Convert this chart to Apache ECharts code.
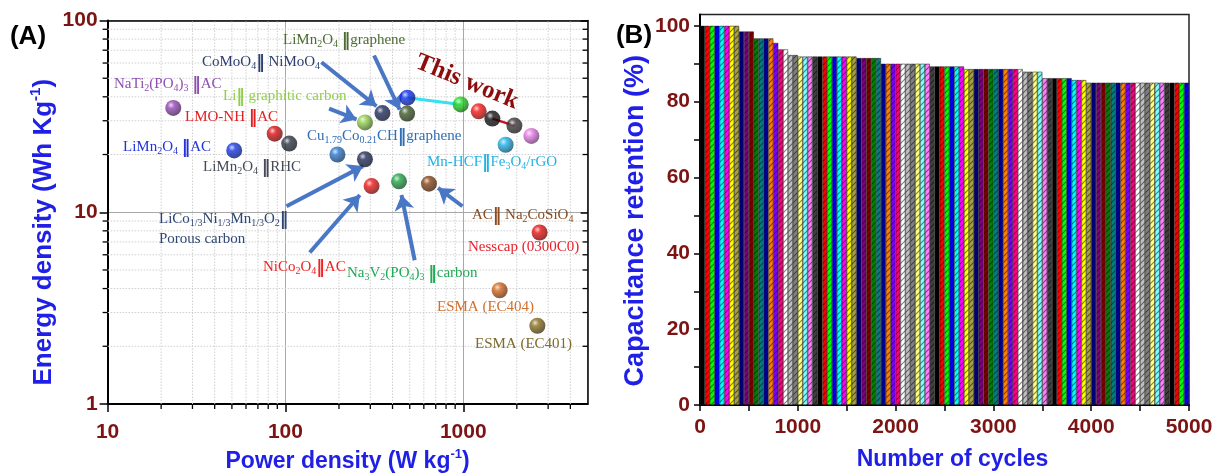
<!DOCTYPE html>
<html>
<head>
<meta charset="utf-8">
<script src="https://cdn.jsdelivr.net/npm/echarts@6/dist/echarts.min.js"></script>
<style>
  html, body { margin: 0; padding: 0; background: #ffffff; }
  #chart { width: 1219px; height: 474px; }
</style>
</head>
<body>
<div id="chart"></div>
<script>
// ---------- (A) Ragone plot: reported devices ----------
const refPower  = [23.4, 87, 105, 51.5, 351, 483, 280, 196, 280, 305, 435, 641, 1730, 2687, 1601, 2609];
const refEnergy = [35, 25.7, 22.8, 21, 32.9, 32.7, 29.4, 20, 18.9, 13.7, 14.5, 14.1, 22.5, 7.84, 3.92, 2.56];

// ---------- (A) Ragone plot: this work ----------
const workPower  = [485, 967, 1221, 1457, 1938, 2414];
const workEnergy = [39.6, 36.5, 33.6, 30.8, 28.3, 25.0];

// ---------- (B) cycling stability ----------
const categories = [];
for (let c = 50; c <= 5000; c += 50) categories.push(String(c));
const retention = [
  100, 100, 100, 100, 100, 100, 100, 100,
  98.5, 98.5, 98.5,
  96.7, 96.7, 96.7, 96.7,
  95.5,
  93.8, 93.8,
  92.3, 92.3,
  91.9, 91.9, 91.9, 91.9, 91.9, 91.9, 91.9, 91.9, 91.9, 91.9, 91.9, 91.9,
  91.5, 91.5, 91.5, 91.5, 91.5,
  90.0, 90.0, 90.0, 90.0, 90.0, 90.0, 90.0, 90.0, 90.0, 90.0,
  89.3, 89.3, 89.3, 89.3, 89.3, 89.3, 89.3,
  88.6, 88.6, 88.6, 88.6, 88.6, 88.6, 88.6, 88.6, 88.6, 88.6, 88.6, 88.6,
  87.9, 87.9, 87.9, 87.9,
  86.2, 86.2, 86.2, 86.2, 86.2, 86.2,
  85.7, 85.7, 85.7,
  85.0, 85.0, 85.0, 85.0, 85.0, 85.0, 85.0, 85.0, 85.0, 85.0, 85.0,
  85.0, 85.0, 85.0, 85.0, 85.0, 85.0, 85.0, 85.0, 85.0, 85.0, 85.0
];

// axis tick lists
const logMinorX = [20, 30, 40, 50, 60, 70, 80, 90, 200, 300, 400, 500, 600, 700, 800, 900, 2000, 3000, 4000];
const logMinorY = [2, 3, 4, 5, 6, 7, 8, 9, 20, 30, 40, 50, 60, 70, 80, 90];
const retentionLabels = [0, 20, 40, 60, 80, 100];
const retentionTicks = [0, 10, 20, 30, 40, 50, 60, 70, 80, 90, 100];

// ---------- styles ----------
const refColors = ['#9446b8', '#e01010', '#2c3644', '#1537e8', '#1f2c5c', '#3f5a28', '#93d04e', '#2a78d0',
                   '#1f2c58', '#f01818', '#20a848', '#8a4516', '#1cb2ea', '#f01010', '#d4681e', '#8a7020'];
const workColors = ['#1030f0', '#22dd22', '#ff1414', '#121212', '#3a3a3a', '#e77ae8'];
const palette = ['#000000', '#ff0000', '#00ff00', '#0000ff', '#00ffff', '#ff00ff', '#ffff00', '#a8a040',
                 '#000080', '#800080', '#800000', '#008000', '#008080', '#0000a0', '#ff8000', '#8000ff',
                 '#ff0080', '#ffffff', '#c0c0c0', '#808080', '#ffff80', '#80ffff', '#ff80ff', '#404040'];

const TICK_COLOR = '#7d1414';
const TITLE_COLOR = '#1f1fe6';
const SANS = '"Liberation Sans", Arial, sans-serif';
const SERIF = '"Liberation Serif", "DejaVu Serif", serif';

function mix(hex, target, t) {
  const n = parseInt(hex.slice(1), 16);
  const r = (n >> 16) & 255, g = (n >> 8) & 255, b = n & 255;
  const m = (c) => Math.round(c + (target - c) * t);
  return 'rgb(' + m(r) + ',' + m(g) + ',' + m(b) + ')';
}
function ball(hex) {
  return {
    type: 'radial', x: 0.36, y: 0.32, r: 0.72,
    colorStops: [
      { offset: 0, color: mix(hex, 255, 0.75) },
      { offset: 0.3, color: hex },
      { offset: 1, color: mix(hex, 0, 0.55) }
    ]
  };
}
function hatch(hex) {
  const c = document.createElement('canvas');
  c.width = 6; c.height = 6;
  const g = c.getContext('2d');
  g.fillStyle = hex; g.fillRect(0, 0, 6, 6);
  g.strokeStyle = 'rgba(0,0,0,0.5)';
  g.lineWidth = 1.1;
  g.beginPath();
  g.moveTo(-1, 7); g.lineTo(7, -1);
  g.moveTo(-1, 1); g.lineTo(1, -1);
  g.moveTo(5, 7); g.lineTo(7, 5);
  g.stroke();
  return { image: c, repeat: 'repeat' };
}

// chemical formula text -> rich tokens ("_x" or "_{...}" is a subscript, "‖" a heavy separator)
function formula(str) {
  let out = '', buf = '';
  const flush = () => { if (buf) { out += '{n|' + buf + '}'; buf = ''; } };
  for (let i = 0; i < str.length; i++) {
    const ch = str[i];
    if (ch === '_') {
      flush();
      let sub;
      if (str[i + 1] === '{') { const j = str.indexOf('}', i); sub = str.slice(i + 2, j); i = j; }
      else { sub = str[i + 1]; i += 1; }
      out += '{s|' + sub + '}';
    } else if (ch === '‖') {
      flush();
      out += '{b|‖}';
    } else buf += ch;
  }
  flush();
  return out;
}
function note(text, x, y, color) {
  return {
    type: 'text', x: x, y: y, z: 50, silent: true,
    style: {
      text: formula(text), fill: color, align: 'left', verticalAlign: 'middle',
      rich: {
        n: { fill: color, fontFamily: SERIF, fontSize: 15, lineHeight: 16, verticalAlign: 'top' },
        b: { fill: color, fontFamily: '"DejaVu Sans", sans-serif', fontWeight: 'bold', fontSize: 17, lineHeight: 16, verticalAlign: 'top' },
        s: { fill: color, fontFamily: SERIF, fontSize: 10, lineHeight: 10, verticalAlign: 'bottom', padding: [8, 0, 0, 0] }
      }
    }
  };
}

// annotation texts of panel A
const notes = [
  ['LiMn_2O_4 ‖graphene', 283, 41, '#4d6b32'],
  ['CoMoO_4‖ NiMoO_4', 202, 63, '#2c3e6e'],
  ['NaTi_2(PO_4)_3 ‖AC', 114, 85, '#8f4fb0'],
  ['Li‖ graphitic carbon', 223, 97, '#8fd04a'],
  ['LMO-NH ‖AC', 185, 118, '#e32020'],
  ['LiMn_2O_4 ‖AC', 123, 148, '#2233dd'],
  ['Cu_{1.79}Co_{0.21}CH‖graphene', 307, 137, '#2f6db5'],
  ['LiMn_2O_4 ‖RHC', 203, 168, '#444a56'],
  ['Mn-HCF‖Fe_3O_4/rGO', 427, 163, '#22b3e6'],
  ['LiCo_{1/3}Ni_{1/3}Mn_{1/3}O_2‖', 159, 220, '#2e4673'],
  ['Porous carbon', 159, 240, '#2e4673'],
  ['NiCo_2O_4‖AC', 263, 268, '#ee2222'],
  ['Na_3V_2(PO_4)_3 ‖carbon', 347, 274, '#1faa55'],
  ['AC‖ Na_2CoSiO_4', 472, 216, '#8a4a1e'],
  ['Nesscap (0300C0)', 468, 248, '#e8202a'],
  ['ESMA (EC404)', 437, 308, '#d2702e'],
  ['ESMA (EC401)', 475, 345, '#7d6a2c']
];

// pointer arrows of panel A, in data coordinates [from, to]
const arrows = [
  [[159.5, 60.6], [325, 35.7]],
  [[315, 65.7], [439, 34.3]],
  [[176, 34.7], [251, 30.5]],
  [[101.4, 10.75], [273, 17.4]],
  [[137, 6.17], [262, 12.3]],
  [[533, 5.62], [449, 12.3]],
  [[989, 10.75], [721, 13.4]]
];

const tickLabel = { color: TICK_COLOR, fontFamily: SANS, fontWeight: 'bold', fontSize: 21 };
function titleStyle(size, padding) {
  return {
    color: TITLE_COLOR, fontFamily: SANS, fontWeight: 'bold', fontSize: size, lineHeight: size + 4,
    padding: padding,
    rich: { sup: { color: TITLE_COLOR, fontFamily: SANS, fontWeight: 'bold', fontSize: Math.round(size * 0.58), lineHeight: Math.round(size * 0.58), verticalAlign: 'top' } }
  };
}
const plain = (v) => String(Math.round(v));

const chart = echarts.init(document.getElementById('chart'), null, { renderer: 'canvas' });

const option = {
  animation: false,
  backgroundColor: '#ffffff',
  grid: [
    { left: 107.6, top: 20.5, width: 480, height: 383.5, show: false, outerBoundsMode: 'none', containLabel: false },
    { left: 700, top: 14.5, width: 489, height: 390.5, show: true, borderColor: '#222', borderWidth: 1.5,
      backgroundColor: 'transparent', outerBoundsMode: 'none', containLabel: false }
  ],
  xAxis: [
    {
      type: 'log', logBase: 10, min: 10, max: 5000, gridIndex: 0, position: 'bottom',
      axisLine: { lineStyle: { color: '#000', width: 2 } },
      axisTick: { show: true, inside: false, length: 8, lineStyle: { color: '#000', width: 1.5 } },
      axisLabel: Object.assign({ margin: 18, showMaxLabel: false, formatter: plain }, tickLabel),
      splitLine: { show: true, lineStyle: { color: '#a8a8a8', width: 1 } },
      name: 'Power density (W kg{sup|-1})', nameLocation: 'middle', nameGap: 41,
      nameTextStyle: titleStyle(23, [0, 0, 0, 0])
    },
    {
      type: 'log', logBase: 10, min: 10, max: 5000, gridIndex: 0, position: 'top',
      axisLine: { lineStyle: { color: '#000', width: 1.5 } },
      axisTick: { show: false }, axisLabel: { show: false }, splitLine: { show: false }
    },
    {
      type: 'category', gridIndex: 1, data: categories, show: false, boundaryGap: true
    },
    {
      type: 'value', gridIndex: 1, min: 0, max: 5000, interval: 1000, position: 'bottom',
      axisLine: { lineStyle: { color: '#000', width: 2 } },
      axisTick: { show: true, inside: false, length: 6, lineStyle: { color: '#000', width: 1.5 } },
      minorTick: { show: true, splitNumber: 2, length: 6, lineStyle: { color: '#000', width: 1.5 } },
      axisLabel: Object.assign({ margin: 12, formatter: plain }, tickLabel),
      splitLine: { show: false },
      name: 'Number of cycles', nameLocation: 'middle', nameGap: 41,
      nameTextStyle: titleStyle(23, [0, 0, 0, 16])
    }
  ],
  yAxis: [
    {
      type: 'log', logBase: 10, min: 1, max: 100, gridIndex: 0, position: 'left',
      axisLine: { lineStyle: { color: '#000', width: 2 } },
      axisTick: { show: true, inside: false, length: 8, lineStyle: { color: '#000', width: 1.5 } },
      axisLabel: Object.assign({ margin: 10, formatter: plain }, tickLabel),
      splitLine: { show: true, lineStyle: { color: '#a8a8a8', width: 1 } },
      name: 'Energy density (Wh Kg{sup|-1})', nameLocation: 'middle', nameGap: 42, nameRotate: 90,
      nameTextStyle: titleStyle(26, [0, 40, 0, 0])
    },
    {
      type: 'log', logBase: 10, min: 1, max: 100, gridIndex: 0, position: 'right',
      axisLine: { lineStyle: { color: '#000', width: 1.5 } },
      axisTick: { show: true, inside: true, length: 7, lineStyle: { color: '#000', width: 1.5 } },
      axisLabel: { show: false }, splitLine: { show: false }
    },
    {
      type: 'value', gridIndex: 1, min: 0, max: 103, position: 'left',
      axisLine: { lineStyle: { color: '#000', width: 2 } },
      axisTick: { show: true, inside: false, length: 6, customValues: retentionTicks, lineStyle: { color: '#000', width: 1.5 } },
      axisLabel: Object.assign({ margin: 10, customValues: retentionLabels, formatter: plain }, tickLabel),
      splitLine: { show: false },
      name: 'Capacitance retention (%)', nameLocation: 'middle', nameGap: 42, nameRotate: 90,
      nameTextStyle: titleStyle(27, [0, 22, 0, 0])
    }
  ],
  series: [
    {
      // minor grid lines and minor ticks of the log axes
      type: 'custom', xAxisIndex: 0, yAxisIndex: 0, silent: true, z: 1, clip: false,
      data: logMinorX.map(v => [v, 1, 0]).concat(logMinorY.map(v => [10, v, 1])),
      renderItem: function (params, api) {
        const kind = api.value(2);
        const dot = { stroke: '#cfcfcf', lineWidth: 1, lineDash: [1.5, 1.5] };
        const tk = { stroke: '#000', lineWidth: 1.3 };
        if (kind === 0) {
          const v = api.value(0);
          const a = api.coord([v, 1]), b = api.coord([v, 100]);
          return { type: 'group', children: [
            { type: 'line', shape: { x1: a[0], y1: a[1], x2: b[0], y2: b[1] }, style: dot },
            { type: 'line', shape: { x1: a[0], y1: a[1], x2: a[0], y2: a[1] + 5 }, style: tk }
          ] };
        }
        const v = api.value(1);
        const a = api.coord([10, v]), b = api.coord([5000, v]);
        return { type: 'group', children: [
          { type: 'line', shape: { x1: a[0], y1: a[1], x2: b[0], y2: b[1] }, style: dot },
          { type: 'line', shape: { x1: a[0], y1: a[1], x2: a[0] - 5, y2: a[1] }, style: tk },
          { type: 'line', shape: { x1: b[0], y1: b[1], x2: b[0] - 5, y2: b[1] }, style: tk }
        ] };
      }
    },
    {
      // connector between the first two points of this work
      type: 'line', xAxisIndex: 0, yAxisIndex: 0, z: 3, silent: true, symbol: 'none',
      lineStyle: { color: '#35e0f0', width: 3 },
      data: [[workPower[0], workEnergy[0]], [workPower[1], workEnergy[1]]]
    },
    {
      type: 'line', xAxisIndex: 0, yAxisIndex: 0, z: 3, silent: true, symbol: 'none',
      lineStyle: { color: '#c0141e', width: 2.5 },
      data: [[workPower[3], workEnergy[3]], [workPower[4], workEnergy[4]]]
    },
    {
      type: 'scatter', xAxisIndex: 0, yAxisIndex: 0, z: 5, symbolSize: 16,
      data: refPower.map((p, i) => ({ value: [p, refEnergy[i]], itemStyle: { color: ball(refColors[i]) } })),
      markLine: {
        silent: true, symbol: ['none', 'arrow'], symbolSize: [15, 15], precision: 4,
        label: { show: false },
        lineStyle: { color: '#4a76c6', width: 4, type: 'solid' },
        emphasis: { disabled: true },
        data: arrows.map(a => [{ coord: a[0] }, { coord: a[1] }])
      }
    },
    {
      type: 'scatter', xAxisIndex: 0, yAxisIndex: 0, z: 6, symbolSize: 16,
      data: workPower.map((p, i) => ({ value: [p, workEnergy[i]], itemStyle: { color: ball(workColors[i]) } }))
    },
    {
      type: 'bar', xAxisIndex: 2, yAxisIndex: 2, barCategoryGap: '0%', barGap: '0%',
      itemStyle: { borderColor: '#1a1a1a', borderWidth: 0.5 },
      data: retention.map((v, i) => ({ value: v, itemStyle: { color: hatch(palette[i % palette.length]) } }))
    }
  ],
  graphic: [
    { type: 'text', x: 28, y: 37, silent: true,
      style: { text: '(A)', font: 'bold 26px ' + SANS, fill: '#000', align: 'center', verticalAlign: 'middle' } },
    { type: 'text', x: 634, y: 36, silent: true,
      style: { text: '(B)', font: 'bold 26px ' + SANS, fill: '#000', align: 'center', verticalAlign: 'middle' } },
    { type: 'text', x: 467, y: 82, rotation: -0.39, silent: true, z: 50,
      style: { text: 'This work', font: 'bold 25px ' + SERIF, fill: '#8b0d0d', align: 'center', verticalAlign: 'middle' } }
  ].concat(notes.map(n => note(n[0], n[1], n[2], n[3])))
};

chart.setOption(option);
</script>
</body>
</html>
